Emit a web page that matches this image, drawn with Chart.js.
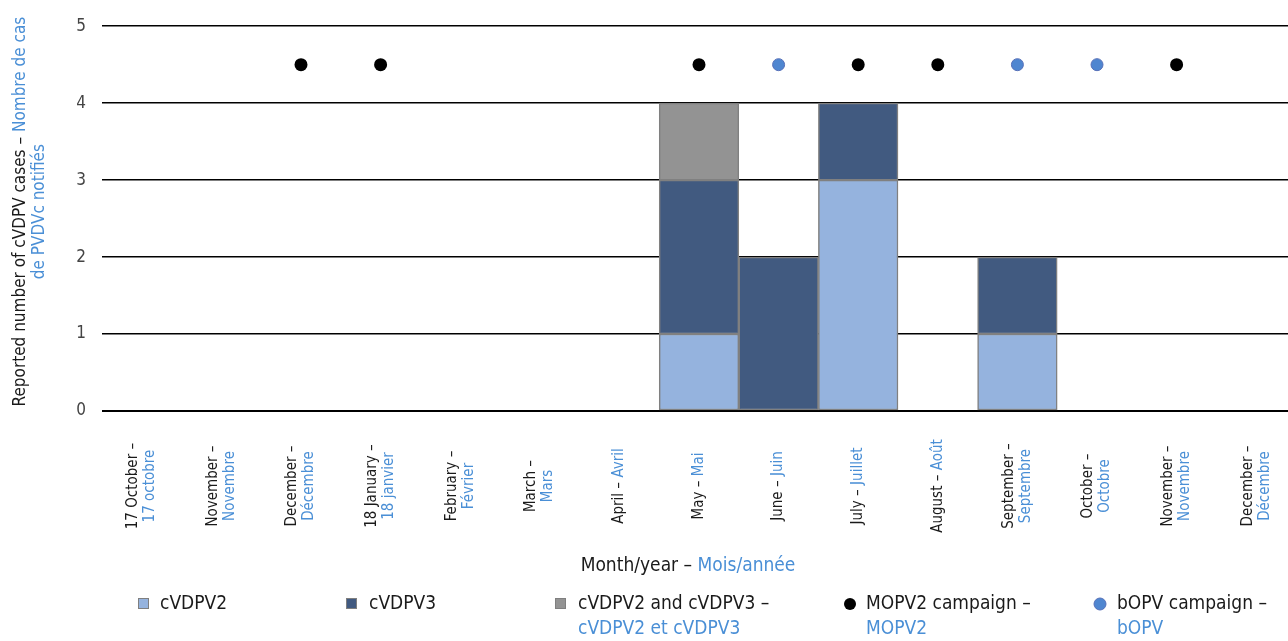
<!DOCTYPE html>
<html lang="en">
  <head>
    <meta charset="UTF-8" />
    <title>Reported cVDPV cases</title>
    <script src="https://cdn.jsdelivr.net/npm/chart.js"></script>
    <style>
      body {
        margin: 0;
        overflow: hidden;
        background: #fff;
      }
    </style>
  </head>
  <body>
    <canvas id="casesChart" width="1288" height="641"></canvas>

    <script>
      // categories (English / French), one-line labels flagged
      const monthEn = ["17 October –", "November –", "December –", "18 January –", "February –", "March –",
        "April –", "May –", "June –", "July –", "August –", "September –", "October –", "November –", "December –"];
      const monthFr = ["17 octobre", "Novembre", "Décembre", "18 janvier", "Février", "Mars",
        "Avril", "Mai", "Juin", "Juillet", "Août", "Septembre", "Octobre", "Novembre", "Décembre"];
      const monthInline = [false, false, false, false, false, false, true, true, true, true, true, false, false, false, false];

      // cases per month
      const cvdpv2 = [null, null, null, null, null, null, null, 1, null, 3, null, 1, null, null, null];
      const cvdpv3 = [null, null, null, null, null, null, null, 2, 2, 1, null, 1, null, null, null];
      const cvdpv23 = [null, null, null, null, null, null, null, 1, null, null, null, null, null, null, null];

      // campaigns (marker drawn at 4.5)
      const mopv2Campaign = [null, null, 4.5, 4.5, null, null, null, 4.5, null, 4.5, 4.5, null, null, 4.5, null];
      const bopvCampaign = [null, null, null, null, null, null, null, null, 4.5, null, null, 4.5, 4.5, null, null];

      const yTicks = [0, 1, 2, 3, 4, 5];

      const legendEn = ["cVDPV2", "cVDPV3", "cVDPV2 and cVDPV3 –", "MOPV2 campaign –", "bOPV campaign –"];
      const legendFr = ["", "", "cVDPV2 et cVDPV3", "MOPV2", "bOPV"];

      const BLACK = "#1a1a1a";
      const BLUE = "#4a8fd6";
      const FONT = "'Liberation Sans Narrow', 'DejaVu Sans Condensed', Arial, sans-serif";
      const colors = ["#95b3de", "#415a80", "#939393"];

      function drawPair(ctx, a, b, cx, y) {
        const wa = ctx.measureText(a).width;
        const wb = ctx.measureText(b).width;
        const x0 = cx - (wa + wb) / 2;
        ctx.textAlign = "left";
        ctx.fillStyle = BLACK;
        ctx.fillText(a, x0, y);
        ctx.fillStyle = BLUE;
        ctx.fillText(b, x0 + wa, y);
      }

      // the plot runs a little past the right edge of the picture
      const widenX = {
        id: "widenX",
        afterLayout(chart) {
          const xs = chart.scales.x;
          xs.right += 8;
          xs.width += 8;
          xs.configure();
        },
      };

      const bilingualText = {
        id: "bilingualText",
        afterDraw(chart) {
          const ctx = chart.ctx;
          const xs = chart.scales.x;
          const area = chart.chartArea;
          ctx.save();
          ctx.textBaseline = "middle";

          // month labels
          ctx.font = "15px " + FONT;
          monthEn.forEach((en, i) => {
            const x = xs.getPixelForTick(i);
            ctx.save();
            ctx.translate(x, 486);
            ctx.rotate(-Math.PI / 2);
            if (monthInline[i]) {
              drawPair(ctx, en + " ", monthFr[i], 0, 0);
            } else {
              ctx.textAlign = "center";
              ctx.fillStyle = BLACK;
              ctx.fillText(en, 0, -8.5);
              ctx.fillStyle = BLUE;
              ctx.fillText(monthFr[i], 0, 8.5);
            }
            ctx.restore();
          });

          // axis titles
          ctx.font = "19px " + FONT;
          drawPair(ctx, "Month/year – ", "Mois/année", 688, 566);

          ctx.font = "17px " + FONT;
          const midY = (area.top + area.bottom) / 2;
          ctx.save();
          ctx.translate(21, midY - 7);
          ctx.rotate(-Math.PI / 2);
          drawPair(ctx, "Reported number of cVDPV cases – ", "Nombre de cas", 0, 0);
          ctx.textAlign = "center";
          ctx.fillStyle = BLUE;
          ctx.fillText("de PVDVc notifiés", 0, 19);
          ctx.restore();

          // legend
          ctx.font = "19px " + FONT;
          const markX = [138, 346, 555, 850, 1100];
          const textX = [160, 369, 578, 866, 1117];
          ctx.textAlign = "left";
          legendEn.forEach((en, i) => {
            if (i < 3) {
              ctx.fillStyle = colors[i];
              ctx.fillRect(markX[i], 598, 11, 11);
              ctx.strokeStyle = "#7f7f7f";
              ctx.lineWidth = 1;
              ctx.strokeRect(markX[i] + 0.5, 598.5, 10, 10);
            } else {
              ctx.beginPath();
              ctx.arc(markX[i], 604, 6, 0, Math.PI * 2);
              ctx.fillStyle = i === 3 ? "#000" : "#4f86d0";
              ctx.fill();
              if (i === 4) {
                ctx.strokeStyle = "#5670b8";
                ctx.lineWidth = 1;
                ctx.stroke();
              }
            }
            ctx.fillStyle = BLACK;
            ctx.fillText(en, textX[i], 604);
            ctx.fillStyle = BLUE;
            ctx.fillText(legendFr[i], textX[i], 629);
          });
          ctx.restore();
        },
      };

      const barStyle = {
        type: "bar",
        stack: "cases",
        borderColor: "#808080",
        borderWidth: 1.5,
        borderSkipped: false,
        barPercentage: 1,
        categoryPercentage: 1,
      };

      const ctx = document.getElementById("casesChart").getContext("2d");
      new Chart(ctx, {
        type: "bar",
        data: {
          labels: monthEn,
          datasets: [
            { ...barStyle, label: "cVDPV2", data: cvdpv2, backgroundColor: colors[0] },
            { ...barStyle, label: "cVDPV3", data: cvdpv3, backgroundColor: colors[1] },
            { ...barStyle, label: "cVDPV2 and cVDPV3", data: cvdpv23, backgroundColor: colors[2] },
            {
              type: "line",
              label: "MOPV2 campaign",
              stack: "mopv2",
              data: mopv2Campaign,
              showLine: false,
              pointRadius: 6.5,
              pointBackgroundColor: "#000",
              pointBorderColor: "#000",
              pointBorderWidth: 0,
            },
            {
              type: "line",
              label: "bOPV campaign",
              stack: "bopv",
              data: bopvCampaign,
              showLine: false,
              pointRadius: 6,
              pointBackgroundColor: "#4f86d0",
              pointBorderColor: "#5670b8",
              pointBorderWidth: 1,
            },
          ],
        },
        options: {
          responsive: false,
          animation: false,
          layout: { autoPadding: false, padding: { top: 22, right: 0, left: 0, bottom: 0 } },
          plugins: {
            legend: { display: false },
            tooltip: { enabled: false },
          },
          scales: {
            x: {
              stacked: true,
              grid: { display: false },
              border: { display: false },
              ticks: { display: false },
              afterFit(scale) {
                scale.height = 230;
              },
            },
            y: {
              stacked: true,
              min: yTicks[0],
              max: yTicks[yTicks.length - 1],
              afterBuildTicks(scale) {
                scale.ticks = yTicks.map((v) => ({ value: v }));
              },
              grid: {
                color: "#000",
                lineWidth: (c) => (c.tick && c.tick.value === 0 ? 2 : 1.5),
                drawTicks: false,
              },
              border: { display: false },
              ticks: {
                padding: 16,
                color: "#444",
                font: { family: FONT, size: 17 },
              },
              afterFit(scale) {
                scale.width = 102;
              },
            },
          },
        },
        plugins: [widenX, bilingualText],
      });
    </script>
  </body>
</html>
